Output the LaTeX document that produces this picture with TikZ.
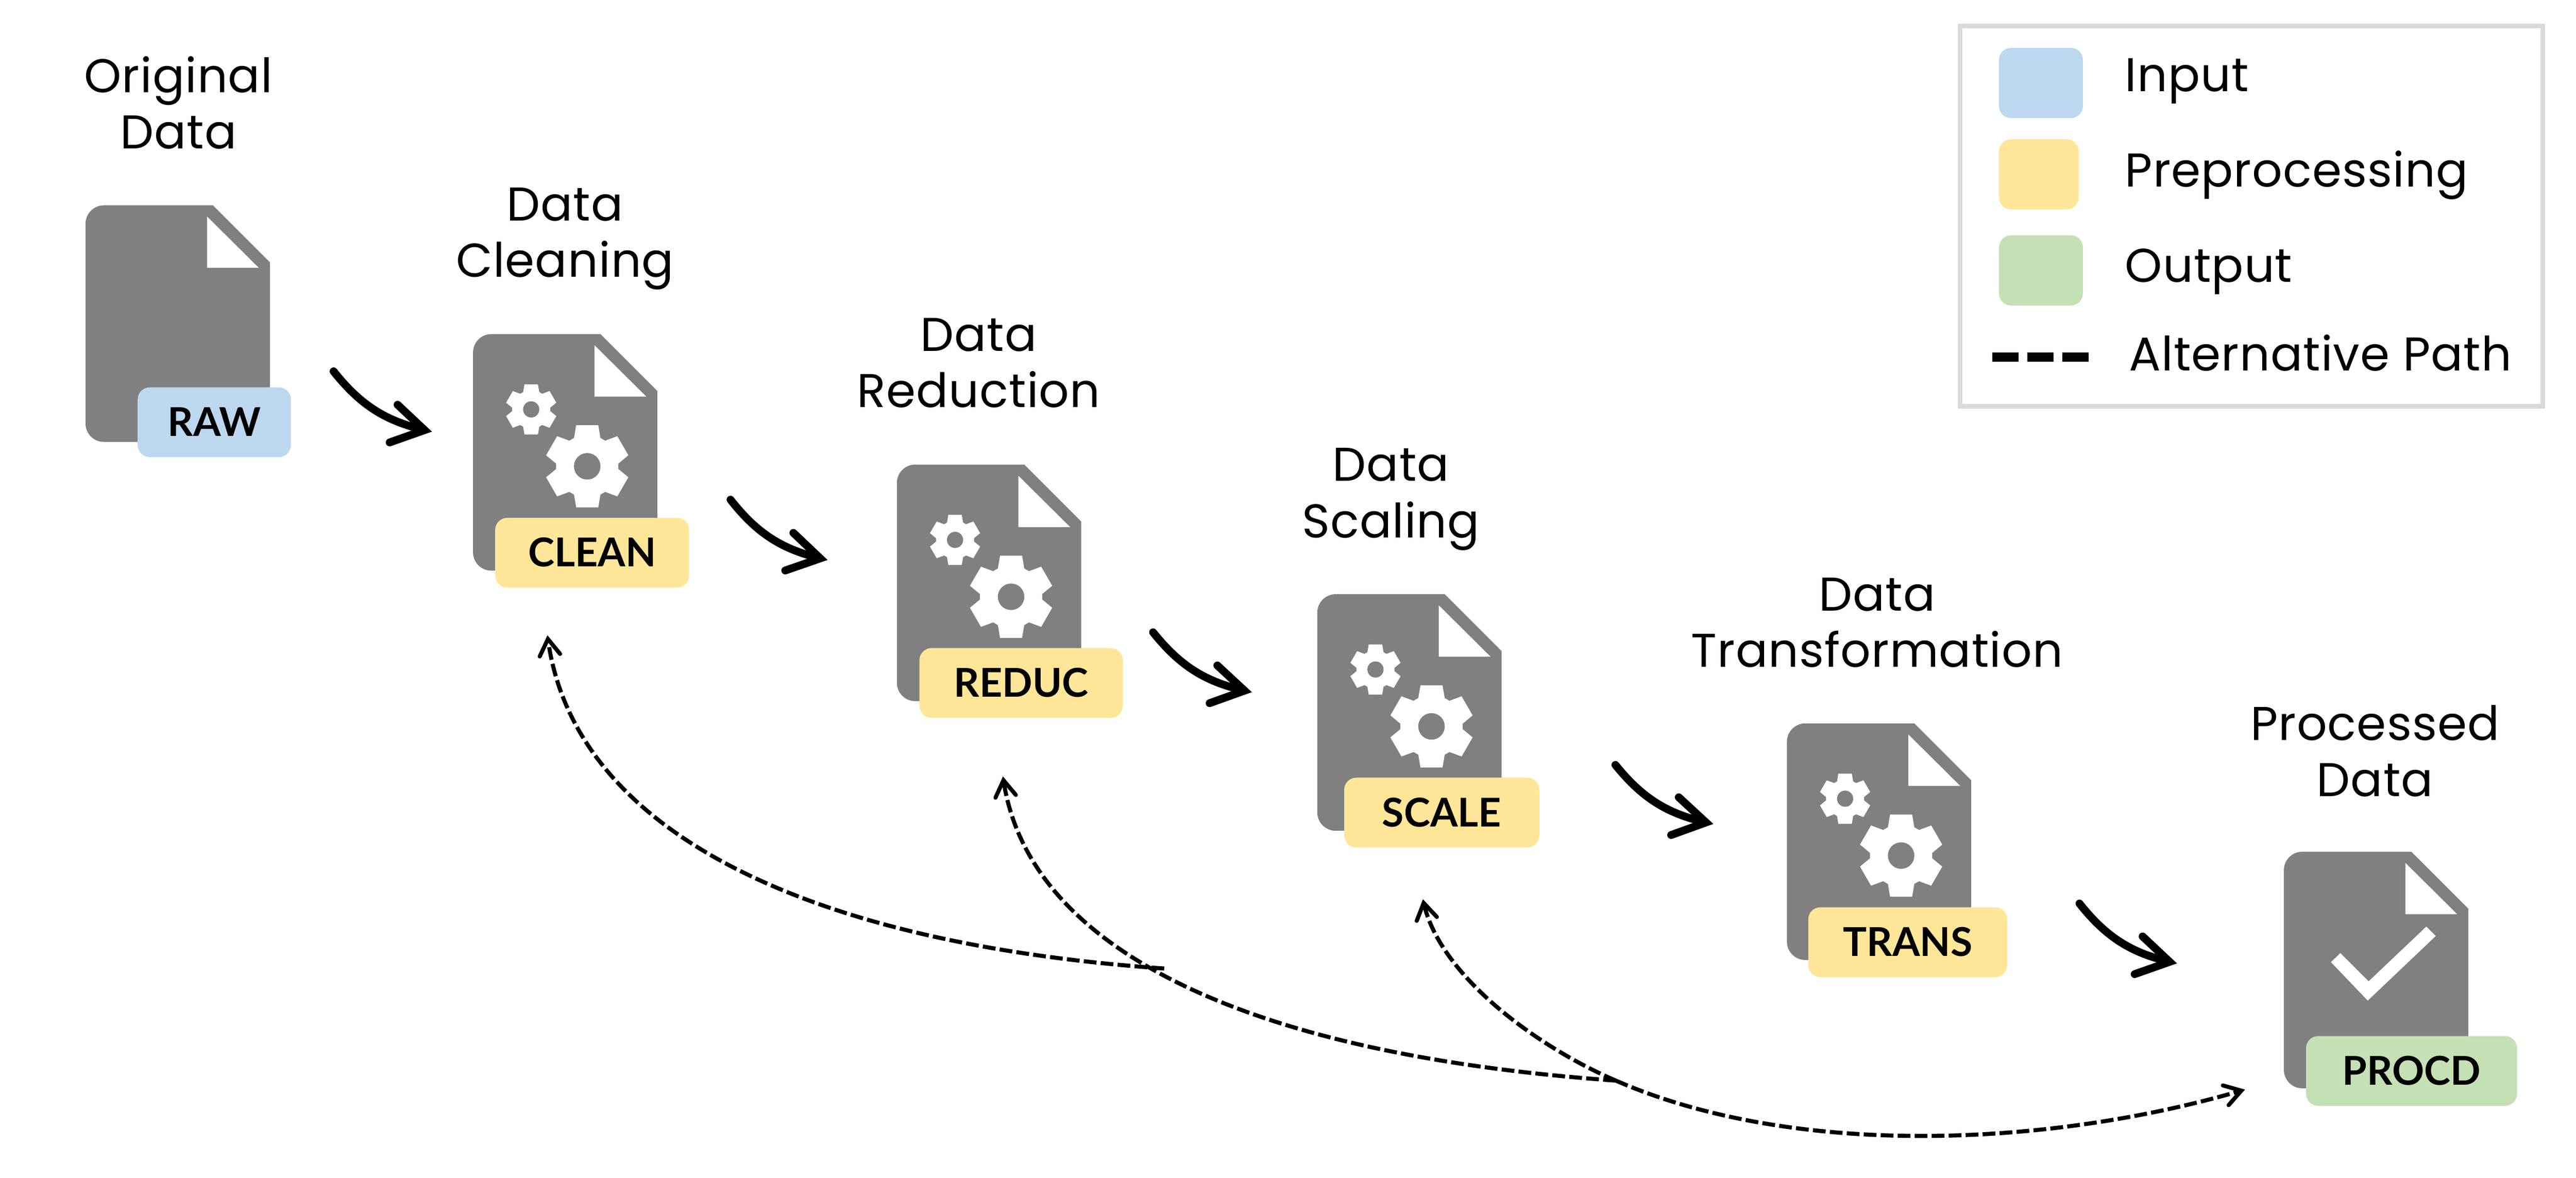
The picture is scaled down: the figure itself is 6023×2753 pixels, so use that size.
\documentclass[tikz,border=0pt]{standalone}
\usepackage{fontspec}
\usetikzlibrary{arrows.meta,bending}
\setmainfont{Poppins}[LetterSpace=1.2]
\newfontfamily\badgefont{Lato}[BoldFont=Lato Bold]
\definecolor{docgray}{HTML}{808080}
\definecolor{inputblue}{HTML}{BDD7EE}
\definecolor{prepyellow}{HTML}{FFE699}
\definecolor{outputgreen}{HTML}{C5E0B4}
\definecolor{legendgray}{HTML}{D9D9D9}
\tikzset{
  badge/.style={rounded corners=8pt, minimum height=1.63cm, inner sep=0pt, text height=.66cm, text depth=0pt, font=\badgefont\bfseries\fontsize{26.4}{30}\selectfont},
  doctitle/.style={align=center, inner sep=0pt, font=\fontsize{31.5}{37.4}\selectfont},
  legendtext/.style={anchor=base west, inner sep=0pt, font=\fontsize{31.5}{36}\selectfont},
  swatch/.style={rounded corners=8pt, inner sep=0pt, minimum width=1.96cm, minimum height=1.64cm},
  steparrow/.style={line width=5.2pt, line cap=round, -{Straight Barb[length=.74cm,width=.9cm,line cap=round,line join=miter]}, bend right=20},
  altarrow/.style={line width=2.7pt, dash pattern=on 8.5pt off 2.8pt, -{Straight Barb[length=.38cm,width=.48cm,line cap=round,line join=miter]}},
  docsheet/.pic={
    \fill[docgray] [rounded corners=12.2pt] (298,0) -- (0,0) -- (0,553) -- (431,553) [sharp corners] -- (431,133) -- cycle;
    \fill[white] (284,26) -- (284,146) -- (405,146) -- cycle;
  },
  gearwheel/.pic={
    \fill[white] (65:73) \foreach \c in {90,150,...,420} { -- (\c-25:73) -- (\c-15:99.5) -- (\c+15:99.5) -- (\c+25:73) } -- cycle;
    \fill[docgray] (0,0) circle[radius=31];
  },
  docgears/.pic={
    \pic at (0,0) {docsheet};
    \pic at (267,309) {gearwheel};
    \pic[scale=.61] at (136,176) {gearwheel};
  },
  doccheck/.pic={
    \pic at (0,0) {docsheet};
    \fill[white] (110,258) -- (132,237) -- (198,303) -- (333,175) -- (355,197) -- (196,348) -- cycle;
  }
}
\begin{document}
\begin{tikzpicture}[x=.01cm, y=-.01cm]
\useasboundingbox (0,0) rectangle (6023,2753);
% files
\pic at (200,480) {docsheet};
\pic at (1106,781) {docgears};
\pic at (2097,1086) {docgears};
\pic at (3080,1389) {docgears};
\pic at (4178,1691) {docgears};
\pic at (5340,1991) {doccheck};
% badges
\node[badge, fill=inputblue, minimum width=3.58cm] (raw) at (501,987) {RAW};
\node[badge, fill=prepyellow, minimum width=4.53cm] (clean) at (1384.5,1292) {CLEAN};
\node[badge, fill=prepyellow, minimum width=4.75cm] (reduc) at (2387.5,1596.5) {REDUC};
\node[badge, fill=prepyellow, minimum width=4.56cm] (scale) at (3371,1899.5) {SCALE};
\node[badge, fill=prepyellow, minimum width=4.65cm] (trans) at (4460.5,2202.5) {TRANS};
\node[badge, fill=outputgreen, minimum width=4.93cm] (procd) at (5638.5,2503.5) {PROCD};
% titles
\node[doctitle] (rawtitle) at (417,240) {Original\\Data};
\node[doctitle] (cleantitle) at (1321,558) {Data\\Cleaning};
\node[doctitle] (reductitle) at (2288,848) {Data\\Reduction};
\node[doctitle] (scaletitle) at (3252,1167) {Data\\Scaling};
\node[doctitle] (transtitle) at (4389,1456) {Data\\Transformation};
\node[doctitle] (procdtitle) at (5553,1756) {Processed\\Data};
% main path
\coordinate (rawout) at (780,868);
\coordinate (cleanin) at (1010,1009);
\coordinate (cleanout) at (1708,1168);
\coordinate (reducin) at (1935,1309);
\coordinate (reducout) at (2696,1478);
\coordinate (scalein) at (2927,1618);
\coordinate (scaleout) at (3777,1788);
\coordinate (transin) at (4006,1926);
\coordinate (transout) at (4862,2112);
\coordinate (procdin) at (5090,2252);
\draw[steparrow] (rawout) to (cleanin);
\draw[steparrow] (cleanout) to (reducin);
\draw[steparrow] (reducout) to (scalein);
\draw[steparrow] (scaleout) to (transin);
\draw[steparrow] (transout) to (procdin);
% alternative paths
\coordinate (forkone) at (2722,2264);
\coordinate (forktwo) at (3778,2526);
\coordinate (cleanback) at (1280,1485);
\coordinate (reducback) at (2345,1815);
\coordinate (scaleback) at (3327,2102);
\coordinate (procdskip) at (5249,2547);
\draw[altarrow] (forkone) .. controls (1865,2204) and (1334,1933) .. (cleanback);
\draw[altarrow] (forktwo) .. controls (2928,2466) and (2399,2225) .. (reducback);
\draw[altarrow] (forktwo) .. controls (3600,2450) and (3360,2280) .. (scaleback);
\draw[altarrow] (forktwo) .. controls (4200,2710) and (4800,2680) .. (procdskip);
% legend
\node[draw=legendgray, line width=3.1pt, minimum width=13.62cm, minimum height=8.88cm, inner sep=0pt] (legend) at (5264,505) {};
\node[swatch, fill=inputblue] (inputswatch) at (4772,194) {};
\node[swatch, fill=prepyellow, minimum width=1.86cm] (prepswatch) at (4767,407.5) {};
\node[swatch, fill=outputgreen] (outputswatch) at (4772,632) {};
\node[legendtext] (inputlabel) at (4968,214) {Input};
\node[legendtext] (preplabel) at (4968,437) {Preprocessing};
\node[legendtext] (outputlabel) at (4968,659) {Output};
\node[legendtext] (altlabel) at (4977,867) {Alternative Path};
\coordinate (altleft) at (4658,835);
\coordinate (altright) at (4884,835);
\draw[line width=6pt, dash pattern=on 17.6pt off 5.7pt] (altleft) -- (altright);
\end{tikzpicture}
\end{document}
